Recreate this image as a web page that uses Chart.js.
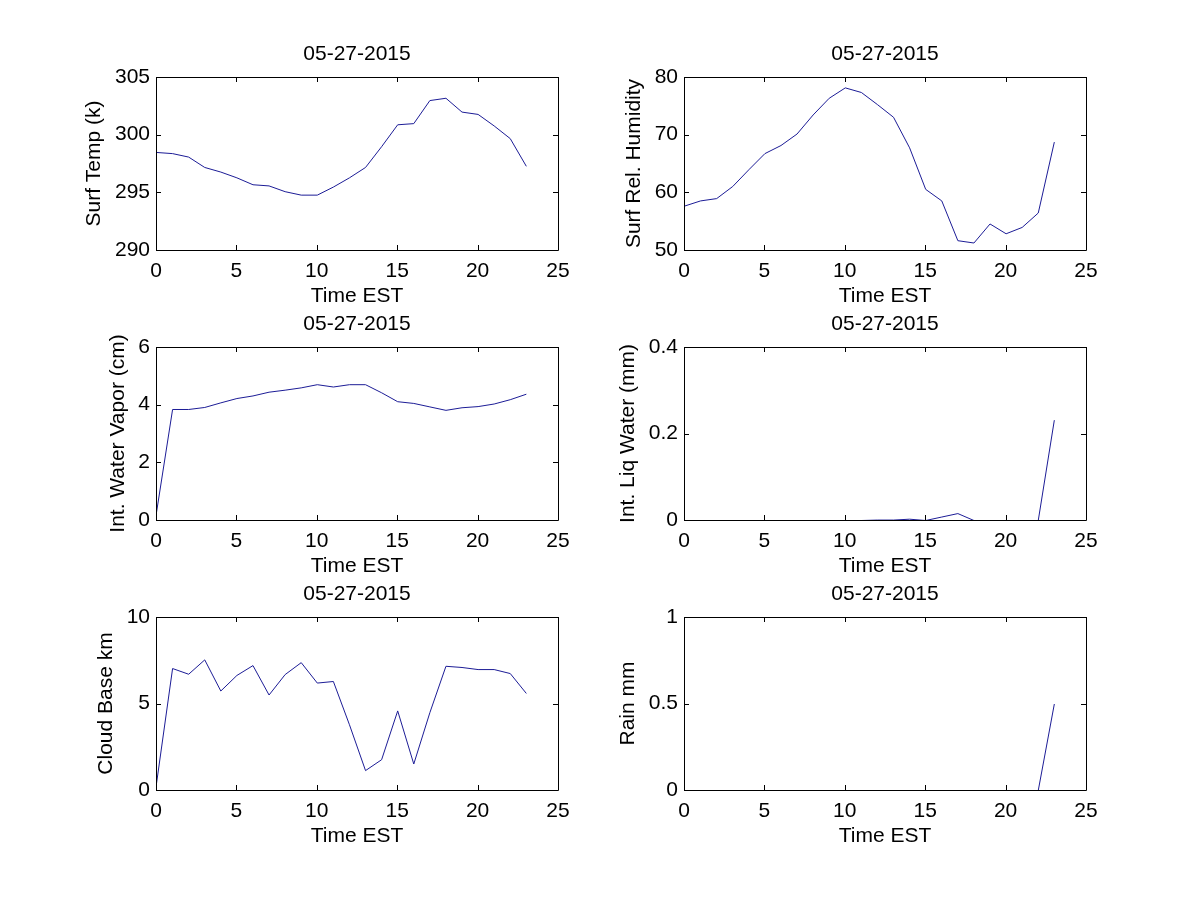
<!DOCTYPE html>
<html><head><meta charset="utf-8">
<script src="https://cdn.jsdelivr.net/npm/chart.js@4.4.1/dist/chart.umd.min.js"></script>
<style>
html,body{margin:0;padding:0;background:#fff;width:1200px;height:900px;overflow:hidden;}
body{position:relative;}
canvas{position:absolute;}
</style></head><body>
<script>
// ---------- data ----------
const hours = [0,1,2,3,4,5,6,7,8,9,10,11,12,13,14,15,16,17,18,19,20,21,22,23];
const dateLabel = "05-27-2015";
const xTitle = "Time EST";
const xTicks = [0,5,10,15,20,25];

const surfTemp = [298.5,298.4,298.1,297.2,296.8,296.3,295.7,295.6,295.1,294.8,294.8,295.5,296.3,297.2,299.0,300.9,301.0,303.0,303.2,302.0,301.8,300.8,299.7,297.3];
const surfRelHumidity = [57.7,58.6,59.0,61.1,64.0,66.8,68.2,70.2,73.5,76.4,78.2,77.4,75.3,73.1,67.8,60.6,58.6,51.7,51.3,54.6,52.9,54.0,56.5,68.8];
const intWaterVapor = [0.28,3.85,3.85,3.92,4.08,4.23,4.32,4.45,4.52,4.60,4.71,4.63,4.71,4.71,4.43,4.12,4.06,3.94,3.82,3.91,3.95,4.04,4.19,4.38];
const intLiqWater = [0,0,0,0,0,0,0,0,0,0,0,0,0.001,0.001,0.003,0,0.008,0.016,0,0,0,0,0,0.232];
const cloudBase = [0.4,7.05,6.72,7.55,5.75,6.65,7.22,5.52,6.70,7.39,6.21,6.30,3.8,1.15,1.78,4.60,1.53,4.5,7.18,7.11,6.99,6.99,6.76,5.61];
const rainMM = [0,0,0,0,0,0,0,0,0,0,0,0,0,0,0,0,0,0,0,0,0,0,0,0.5];

const surfTempTicks = [290,295,300,305];
const humidityTicks = [50,60,70,80];
const vaporTicks = [0,2,4,6];
const liqTicks = [0,0.2,0.4];
const cloudTicks = [0,5,10];
const rainTicks = [0,0.5,1];

// ---------- layout ----------
const FONT = "'Liberation Sans', Arial, Helvetica, sans-serif";
const FS = 21;
const PL = 110, PT = 45, PR = 30, PB = 70;
const AXW = 402, AXH = 173;
const LINE = '#1c1c96';

const panels = [
  {left:156, top:77,  values:surfTemp,        yTitle:'Surf Temp (k)',          ticks:surfTempTicks, ylab:62},
  {left:684, top:77,  values:surfRelHumidity, yTitle:'Surf Rel. Humidity',     ticks:humidityTicks, ylab:50},
  {left:156, top:347, values:intWaterVapor,   yTitle:'Int. Water Vapor (cm)',  ticks:vaporTicks,    ylab:38},
  {left:684, top:347, values:intLiqWater,     yTitle:'Int. Liq Water (mm)',    ticks:liqTicks,      ylab:56},
  {left:156, top:617, values:cloudBase,       yTitle:'Cloud Base km',          ticks:cloudTicks,    ylab:50},
  {left:684, top:617, values:rainMM,          yTitle:'Rain mm',                ticks:rainTicks,     ylab:56}
];

Chart.defaults.color = '#000';
Chart.defaults.font.family = FONT;
Chart.defaults.font.size = FS;

const framePlugin = {
  id: 'matlabFrame',
  beforeDatasetsDraw(chart) {
    chart.ctx.save();
    chart.ctx.translate(0.5, 0.5);
  },
  afterDatasetsDraw(chart) {
    chart.ctx.restore();
    const {ctx, chartArea: a, scales} = chart;
    const tl = 5;
    ctx.save();
    ctx.strokeStyle = '#000';
    ctx.lineWidth = 1;
    ctx.beginPath();
    ctx.rect(a.left + 0.5, a.top + 0.5, a.right - a.left, a.bottom - a.top);
    scales.x.ticks.forEach(t => {
      const px = Math.round(scales.x.getPixelForValue(t.value)) + 0.5;
      ctx.moveTo(px, a.bottom); ctx.lineTo(px, a.bottom - tl);
      ctx.moveTo(px, a.top); ctx.lineTo(px, a.top + tl);
    });
    scales.y.ticks.forEach(t => {
      const py = Math.round(scales.y.getPixelForValue(t.value)) + 0.5;
      ctx.moveTo(a.left, py); ctx.lineTo(a.left + tl, py);
      ctx.moveTo(a.right, py); ctx.lineTo(a.right - tl, py);
    });
    ctx.stroke();
    ctx.restore();
  }
};

const fmt = v => String(Number(Number(v).toFixed(4)));

panels.forEach((p, i) => {
  const cv = document.createElement('canvas');
  const w = AXW + PL + PR, h = AXH + PT + PB;
  cv.width = w; cv.height = h;
  cv.style.width = w + 'px'; cv.style.height = h + 'px';
  cv.style.left = (p.left - PL) + 'px';
  cv.style.top = (p.top - PT) + 'px';
  document.body.appendChild(cv);
  const yTicks = p.ticks;
  new Chart(cv.getContext('2d'), {
    type: 'line',
    data: {
      datasets: [{
        data: hours.map((hr, k) => ({x: hr, y: p.values[k]})),
        borderColor: LINE,
        borderWidth: 1,
        pointRadius: 0,
        tension: 0,
        fill: false
      }]
    },
    options: {
      responsive: false,
      animation: false,
      devicePixelRatio: 1,
      events: [],
      layout: {padding: {left: 0, top: 0, right: PR, bottom: 0}},
      plugins: {
        legend: {display: false},
        tooltip: {enabled: false},
        title: {
          display: true,
          fullSize: false,
          text: dateLabel,
          font: {size: FS, weight: 'normal', lineHeight: 1},
          color: '#000',
          padding: {top: 12, bottom: PT - FS - 12}
        }
      },
      scales: {
        x: {
          type: 'linear',
          min: 0, max: 25,
          grid: {display: false, drawTicks: false},
          border: {display: false},
          afterBuildTicks: s => { s.ticks = xTicks.map(v => ({value: v})); },
          afterFit: s => { s.height = PB; },
          ticks: {padding: 9, maxRotation: 0, autoSkip: false, callback: fmt, font: {size: FS}},
          title: {display: true, text: xTitle, font: {size: FS, lineHeight: 1}, padding: {top: 0, bottom: PB - 46 - FS / 2}}
        },
        y: {
          type: 'linear',
          min: yTicks[0], max: yTicks[yTicks.length - 1],
          grid: {display: false, drawTicks: false},
          border: {display: false},
          afterBuildTicks: s => { s.ticks = yTicks.map(v => ({value: v})); },
          afterFit: s => { s.width = PL; },
          ticks: {padding: 6, autoSkip: false, callback: fmt, font: {size: FS}},
          title: {display: true, text: p.yTitle, font: {size: FS, lineHeight: 1}, padding: {top: PL - p.ylab - FS / 2, bottom: 0}}
        }
      }
    },
    plugins: [framePlugin]
  });
});
</script>
</body></html>
